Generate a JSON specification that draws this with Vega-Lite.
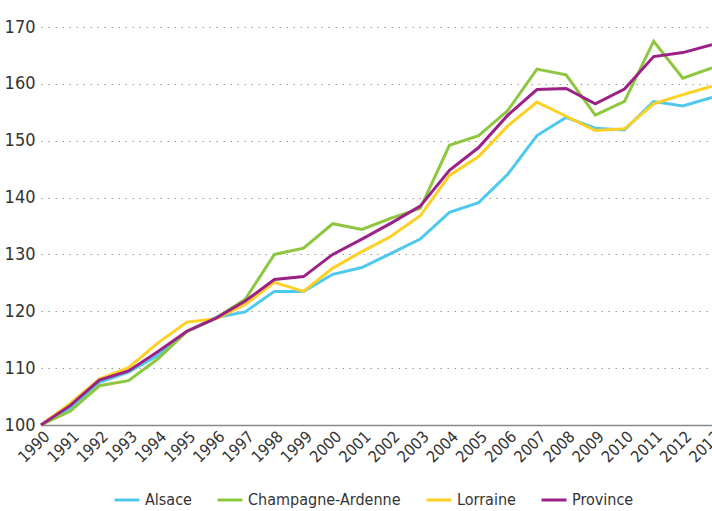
{
  "$schema": "https://vega.github.io/schema/vega-lite/v6.json",
  "width": 671,
  "height": 398,
  "autosize": {"type": "none"},
  "padding": {"left": 41, "top": 27, "right": 0, "bottom": 86},
  "config": {
    "font": "DejaVu Sans Condensed, sans-serif",
    "view": {"stroke": null}
  },
  "datasets": {
    "series": [
      {"year": "1990", "region": "Alsace", "value": 100},
      {"year": "1991", "region": "Alsace", "value": 102.9},
      {"year": "1992", "region": "Alsace", "value": 107.5},
      {"year": "1993", "region": "Alsace", "value": 109.3},
      {"year": "1994", "region": "Alsace", "value": 112.2},
      {"year": "1995", "region": "Alsace", "value": 116.5},
      {"year": "1996", "region": "Alsace", "value": 118.9},
      {"year": "1997", "region": "Alsace", "value": 119.9},
      {"year": "1998", "region": "Alsace", "value": 123.5},
      {"year": "1999", "region": "Alsace", "value": 123.5},
      {"year": "2000", "region": "Alsace", "value": 126.5},
      {"year": "2001", "region": "Alsace", "value": 127.7},
      {"year": "2002", "region": "Alsace", "value": 130.2},
      {"year": "2003", "region": "Alsace", "value": 132.7},
      {"year": "2004", "region": "Alsace", "value": 137.4},
      {"year": "2005", "region": "Alsace", "value": 139.1},
      {"year": "2006", "region": "Alsace", "value": 144.1},
      {"year": "2007", "region": "Alsace", "value": 150.9},
      {"year": "2008", "region": "Alsace", "value": 154.1},
      {"year": "2009", "region": "Alsace", "value": 152.2},
      {"year": "2010", "region": "Alsace", "value": 151.9},
      {"year": "2011", "region": "Alsace", "value": 156.9},
      {"year": "2012", "region": "Alsace", "value": 156.1},
      {"year": "2013", "region": "Alsace", "value": 157.6},
      {"year": "1990", "region": "Champagne-Ardenne", "value": 100},
      {"year": "1991", "region": "Champagne-Ardenne", "value": 102.4},
      {"year": "1992", "region": "Champagne-Ardenne", "value": 106.9},
      {"year": "1993", "region": "Champagne-Ardenne", "value": 107.8},
      {"year": "1994", "region": "Champagne-Ardenne", "value": 111.6},
      {"year": "1995", "region": "Champagne-Ardenne", "value": 116.4},
      {"year": "1996", "region": "Champagne-Ardenne", "value": 118.8},
      {"year": "1997", "region": "Champagne-Ardenne", "value": 122.1},
      {"year": "1998", "region": "Champagne-Ardenne", "value": 130.0},
      {"year": "1999", "region": "Champagne-Ardenne", "value": 131.1},
      {"year": "2000", "region": "Champagne-Ardenne", "value": 135.4},
      {"year": "2001", "region": "Champagne-Ardenne", "value": 134.4},
      {"year": "2002", "region": "Champagne-Ardenne", "value": 136.4},
      {"year": "2003", "region": "Champagne-Ardenne", "value": 138.1},
      {"year": "2004", "region": "Champagne-Ardenne", "value": 149.2},
      {"year": "2005", "region": "Champagne-Ardenne", "value": 150.9},
      {"year": "2006", "region": "Champagne-Ardenne", "value": 155.3},
      {"year": "2007", "region": "Champagne-Ardenne", "value": 162.6},
      {"year": "2008", "region": "Champagne-Ardenne", "value": 161.6},
      {"year": "2009", "region": "Champagne-Ardenne", "value": 154.5},
      {"year": "2010", "region": "Champagne-Ardenne", "value": 156.9},
      {"year": "2011", "region": "Champagne-Ardenne", "value": 167.5},
      {"year": "2012", "region": "Champagne-Ardenne", "value": 161.0},
      {"year": "2013", "region": "Champagne-Ardenne", "value": 162.8},
      {"year": "1990", "region": "Lorraine", "value": 100},
      {"year": "1991", "region": "Lorraine", "value": 103.8},
      {"year": "1992", "region": "Lorraine", "value": 108.1},
      {"year": "1993", "region": "Lorraine", "value": 110.1},
      {"year": "1994", "region": "Lorraine", "value": 114.4},
      {"year": "1995", "region": "Lorraine", "value": 118.1},
      {"year": "1996", "region": "Lorraine", "value": 118.7},
      {"year": "1997", "region": "Lorraine", "value": 121.2},
      {"year": "1998", "region": "Lorraine", "value": 125.1},
      {"year": "1999", "region": "Lorraine", "value": 123.5},
      {"year": "2000", "region": "Lorraine", "value": 127.6},
      {"year": "2001", "region": "Lorraine", "value": 130.5},
      {"year": "2002", "region": "Lorraine", "value": 133.2},
      {"year": "2003", "region": "Lorraine", "value": 136.8},
      {"year": "2004", "region": "Lorraine", "value": 143.9},
      {"year": "2005", "region": "Lorraine", "value": 147.2},
      {"year": "2006", "region": "Lorraine", "value": 152.6},
      {"year": "2007", "region": "Lorraine", "value": 156.8},
      {"year": "2008", "region": "Lorraine", "value": 154.3},
      {"year": "2009", "region": "Lorraine", "value": 151.8},
      {"year": "2010", "region": "Lorraine", "value": 152.1},
      {"year": "2011", "region": "Lorraine", "value": 156.5},
      {"year": "2012", "region": "Lorraine", "value": 158.1},
      {"year": "2013", "region": "Lorraine", "value": 159.6},
      {"year": "1990", "region": "Province", "value": 100},
      {"year": "1991", "region": "Province", "value": 103.4},
      {"year": "1992", "region": "Province", "value": 107.9},
      {"year": "1993", "region": "Province", "value": 109.5},
      {"year": "1994", "region": "Province", "value": 112.9},
      {"year": "1995", "region": "Province", "value": 116.5},
      {"year": "1996", "region": "Province", "value": 118.8},
      {"year": "1997", "region": "Province", "value": 121.8},
      {"year": "1998", "region": "Province", "value": 125.6},
      {"year": "1999", "region": "Province", "value": 126.1},
      {"year": "2000", "region": "Province", "value": 130.0},
      {"year": "2001", "region": "Province", "value": 132.7},
      {"year": "2002", "region": "Province", "value": 135.5},
      {"year": "2003", "region": "Province", "value": 138.5},
      {"year": "2004", "region": "Province", "value": 144.8},
      {"year": "2005", "region": "Province", "value": 148.8},
      {"year": "2006", "region": "Province", "value": 154.5},
      {"year": "2007", "region": "Province", "value": 159.0},
      {"year": "2008", "region": "Province", "value": 159.2},
      {"year": "2009", "region": "Province", "value": 156.5},
      {"year": "2010", "region": "Province", "value": 159.1},
      {"year": "2011", "region": "Province", "value": 164.8},
      {"year": "2012", "region": "Province", "value": 165.5},
      {"year": "2013", "region": "Province", "value": 166.9}
    ]
  },
  "data": {"name": "series"},
  "mark": {"type": "line", "strokeWidth": 3, "strokeJoin": "miter", "clip": false},
  "encoding": {
    "x": {
      "field": "year",
      "type": "ordinal",
      "scale": {"type": "point", "padding": 0},
      "axis": {
        "title": null,
        "labelAngle": -45,
        "labelFontSize": 16,
        "labelColor": "#333333",
        "labelPadding": 3,
        "labelOverlap": false,
        "ticks": false,
        "domainColor": "#888888",
        "domainWidth": 1.5,
        "grid": false
      }
    },
    "y": {
      "field": "value",
      "type": "quantitative",
      "scale": {"domain": [100, 170], "nice": false, "zero": false},
      "axis": {
        "title": null,
        "values": [100, 110, 120, 130, 140, 150, 160, 170],
        "labelFontSize": 18,
        "labelColor": "#333333",
        "labelPadding": 6,
        "ticks": false,
        "domain": false,
        "grid": true,
        "gridColor": "#999999",
        "gridDash": [1.5, 5.5],
        "gridWidth": 1.2
      }
    },
    "color": {
      "field": "region",
      "type": "nominal",
      "scale": {
        "domain": ["Alsace", "Champagne-Ardenne", "Lorraine", "Province"],
        "range": ["#4FC8EE", "#8DC63F", "#FDD023", "#9B2188"]
      },
      "legend": {
        "title": null,
        "orient": "none",
        "legendX": 72,
        "legendY": 459,
        "direction": "horizontal",
        "symbolType": "stroke",
        "symbolSize": 625,
        "symbolStrokeWidth": 3,
        "labelFontSize": 16,
        "labelLimit": 0,
        "labelColor": "#333333",
        "columnPadding": 19
      }
    }
  }
}
